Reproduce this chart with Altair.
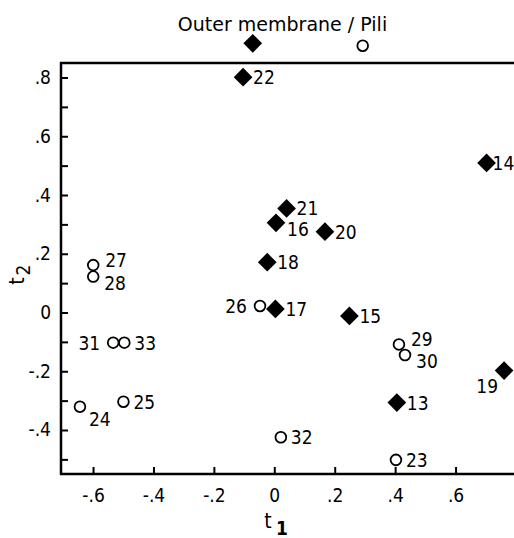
import altair as alt
import pandas as pd

# ---- data ----
filled_ids = ["22", "14", "21", "16", "20", "18", "17", "15", "19", "13"]
filled_t1 = [-0.105, 0.701, 0.039, 0.004, 0.166, -0.025, 0.002, 0.247, 0.759, 0.404]
filled_t2 = [0.803, 0.511, 0.356, 0.307, 0.277, 0.173, 0.014, -0.010, -0.196, -0.305]
filled_place = ["r", "edge", "r", "lr", "r", "r", "r", "r", "bl", "r"]

open_ids = ["26", "27", "28", "31", "33", "24", "25", "29", "30", "32", "23"]
open_t1 = [-0.049, -0.601, -0.601, -0.535, -0.498, -0.645, -0.501, 0.411, 0.431, 0.020, 0.401]
open_t2 = [0.024, 0.163, 0.124, -0.101, -0.101, -0.319, -0.302, -0.107, -0.143, -0.423, -0.500]
open_place = ["l", "ur", "lr", "l", "r", "br", "r", "ur", "lr", "r", "r"]

legend_names = ["Outer membrane", "Pili"]
legend_t1 = [-0.073, 0.291]
legend_t2 = [0.918, 0.910]
title_text = "Outer membrane / Pili"

x_tick_values = [-0.6, -0.4, -0.2, 0.0, 0.2, 0.4, 0.6]
x_tick_labels = ["-.6", "-.4", "-.2", "0", ".2", ".4", ".6"]
y_tick_values = [-0.5, -0.4, -0.3, -0.2, -0.1, 0.0, 0.1, 0.2, 0.3, 0.4, 0.5, 0.6, 0.7, 0.8]
y_label_values = [-0.4, -0.2, 0.0, 0.2, 0.4, 0.6, 0.8]
y_tick_labels = ["-.4", "-.2", "0", ".2", ".4", ".6", ".8"]

X_DOMAIN = [-0.7077, 0.7918]
Y_DOMAIN = [-0.5481, 0.8511]
W, H = 453, 411
FONT = "DejaVu Sans Condensed"
TFONT = "DejaVu Sans"
FS = 19

xs = alt.Scale(domain=X_DOMAIN, nice=False, zero=False)
ys = alt.Scale(domain=Y_DOMAIN, nice=False, zero=False)

def X(field="t1"):
    return alt.X(f"{field}:Q", scale=xs, axis=None)

def Y(field="t2"):
    return alt.Y(f"{field}:Q", scale=ys, axis=None)

pts = pd.DataFrame({
    "id": filled_ids + open_ids,
    "t1": filled_t1 + open_t1,
    "t2": filled_t2 + open_t2,
    "kind": ["filled"] * len(filled_ids) + ["open"] * len(open_ids),
    "place": filled_place + open_place,
})
legend_df = pd.DataFrame({"name": legend_names, "t1": legend_t1, "t2": legend_t2})
xt = pd.DataFrame({"v": x_tick_values, "lab": x_tick_labels})
yt = pd.DataFrame({"v": y_tick_values})
yl = pd.DataFrame({"v": y_label_values, "lab": y_tick_labels})

base = alt.Chart(pts)

diamonds = base.transform_filter("datum.kind == 'filled'").mark_point(
    shape="diamond", filled=True, size=350, color="black", opacity=1
).encode(x=X(), y=Y())

circles = base.transform_filter("datum.kind == 'open'").mark_point(
    shape="circle", filled=False, size=115, color="black", strokeWidth=1.8, opacity=1
).encode(x=X(), y=Y())

# label placements (offsets in px)
placements = {
    "r": dict(dx=10, dy=1, align="left"),
    "edge": dict(dx=6, dy=1, align="left"),
    "l": dict(dx=-13, dy=1, align="right"),
    "ur": dict(dx=12, dy=-4, align="left"),
    "lr": dict(dx=11, dy=7, align="left"),
    "bl": dict(dx=-6, dy=16, align="right"),
    "br": dict(dx=9, dy=13, align="left"),
}
label_layers = []
for key, st in placements.items():
    label_layers.append(
        base.transform_filter(f"datum.place == '{key}'").mark_text(
            font=FONT, fontSize=FS, baseline="middle", color="black", **st
        ).encode(x=X(), y=Y(), text="id:N")
    )

legend_marks = [
    alt.Chart(legend_df).transform_filter("datum.name == 'Outer membrane'").mark_point(
        shape="diamond", filled=True, size=350, color="black", opacity=1
    ).encode(x=X(), y=Y()),
    alt.Chart(legend_df).transform_filter("datum.name == 'Pili'").mark_point(
        shape="circle", filled=False, size=115, color="black", strokeWidth=1.8, opacity=1
    ).encode(x=X(), y=Y()),
]

title = alt.Chart(pd.DataFrame({"t": [title_text]})).mark_text(
    font=TFONT, fontSize=19, align="center", baseline="middle", color="black"
).encode(x=alt.value(221.5), y=alt.value(-38), text="t:N")

# frame lines
frame_df = pd.DataFrame({"a": [0]})
left_line = alt.Chart(frame_df).mark_rule(color="black", strokeWidth=2.5).encode(
    x=alt.value(0), y=alt.value(-1), y2=alt.value(H + 1))
bottom_line = alt.Chart(frame_df).mark_rule(color="black", strokeWidth=2.5).encode(
    x=alt.value(-1), x2=alt.value(W), y=alt.value(H))
top_line = alt.Chart(frame_df).mark_rule(color="black", strokeWidth=2.5).encode(
    x=alt.value(-1), x2=alt.value(W), y=alt.value(0))

# ticks (pointing inward)
y_ticks = alt.Chart(yt).mark_tick(orient="horizontal", size=7, thickness=2, color="black", opacity=1).encode(
    y=Y("v"), x=alt.value(3.5))
x_ticks = alt.Chart(xt).mark_tick(orient="vertical", size=7, thickness=2, color="black", opacity=1).encode(
    x=X("v"), y=alt.value(H - 3.5))

x_labels = alt.Chart(xt).mark_text(font=FONT, fontSize=FS, align="center", baseline="middle", color="black").encode(
    x=X("v"), y=alt.value(H + 22), text="lab:N")
y_labels = alt.Chart(yl).mark_text(font=FONT, fontSize=FS, align="right", baseline="middle", color="black").encode(
    y=Y("v"), x=alt.value(-10), text="lab:N")

# axis titles t1 and t2 (with lowered subscripts)
at = pd.DataFrame({"t": ["t"], "n1": ["1"], "n2": ["2"]})
t1_t = alt.Chart(at).mark_text(font=FONT, fontSize=21, align="center", baseline="middle").encode(
    x=alt.value(207), y=alt.value(459), text="t:N")
t1_s = alt.Chart(at).mark_text(font=FONT, fontSize=19, align="center", baseline="middle", fontWeight="bold").encode(
    x=alt.value(221), y=alt.value(466), text="n1:N")
t2_t = alt.Chart(at).mark_text(font=FONT, fontSize=21, align="center", baseline="middle", angle=270).encode(
    x=alt.value(-43), y=alt.value(218), text="t:N")
t2_s = alt.Chart(at).mark_text(font=FONT, fontSize=19, align="center", baseline="middle", angle=270).encode(
    x=alt.value(-37), y=alt.value(207), text="n2:N")

chart = alt.layer(
    left_line, bottom_line, top_line, y_ticks, x_ticks, x_labels, y_labels,
    t1_t, t1_s, t2_t, t2_s, title, *legend_marks, circles, diamonds, *label_layers
).properties(
    width=W, height=H,
    padding={"left": 61, "top": 63, "right": 0, "bottom": 64},
    autosize=alt.AutoSizeParams(type="none"),
    background="white",
).configure_view(stroke=None)

chart.save("out.html", embed_options={"renderer": "svg", "actions": False})
